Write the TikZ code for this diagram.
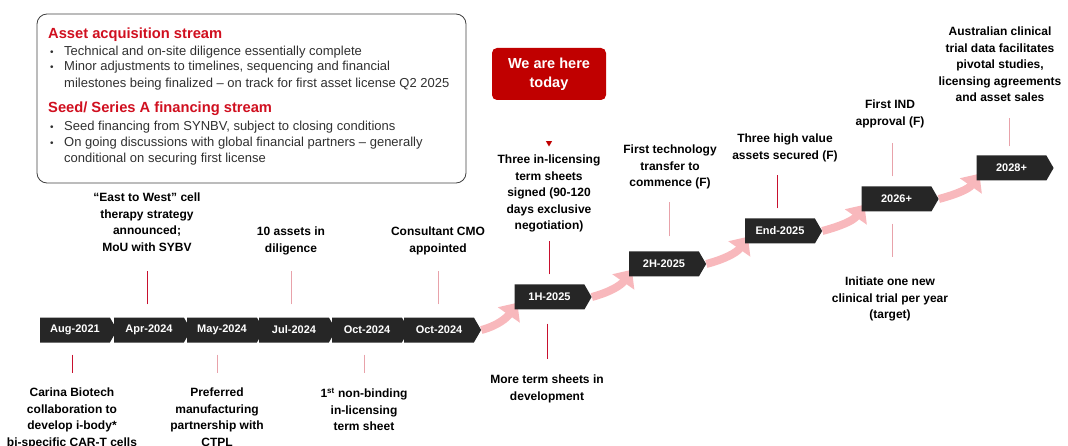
\documentclass[tikz,border=0pt]{standalone}
\usepackage{fontspec}
\setmainfont{Liberation Sans}
\usetikzlibrary{shapes.symbols,shapes.geometric,arrows.meta,backgrounds}

\definecolor{chev}{HTML}{262626}
\definecolor{herered}{HTML}{C00000}
\definecolor{headred}{HTML}{D00F1F}
\definecolor{tickred}{HTML}{C8102E}
\definecolor{tickpink}{HTML}{E8A2AA}
\definecolor{flowpink}{HTML}{F8B8BC}
\definecolor{boxtext}{HTML}{303030}
\definecolor{boxline}{HTML}{404040}

\begin{document}
\begin{tikzpicture}[x=1pt,y=-1pt,
    stage/.style ={signal, signal to=east, signal pointer angle=120, fill=chev, text=white,
                   font=\bfseries\fontsize{11}{12}\selectfont,
                   minimum width=77pt, minimum height=25pt, inner sep=0pt},
    note/.style ={align=center, inner sep=0pt, anchor=north,
                  font=\bfseries\fontsize{12}{16.5}\selectfont},
    tick/.style ={line width=1pt, tickred},
    softtick/.style ={line width=1pt, tickpink},
    flow/.style ={line width=8pt, flowpink, -{Triangle[width=26pt,length=15pt]}},
    head/.style ={anchor=base west, inner sep=0pt, text=headred,
                  font=\bfseries\fontsize{14.7}{17}\selectfont},
    point/.style ={anchor=base west, inner sep=0pt, text=boxtext,
                   font=\fontsize{13}{15}\selectfont},
    dot/.style ={anchor=base west, inner sep=0pt, text=boxtext,
                 font=\fontsize{10}{12}\selectfont},
    here/.style ={fill=herered, text=white, rounded corners=5pt, align=center,
                  minimum width=114pt, minimum height=52pt,
                  font=\bfseries\fontsize{14.5}{19}\selectfont},
    marker/.style ={regular polygon, regular polygon sides=3, shape border rotate=180,
                    fill=herered, inner sep=0pt, minimum size=7pt}]
   \useasboundingbox (0,0) rectangle (1068,446);

   % streams box
   \draw[boxline, line width=0.8pt, rounded corners=10pt] (37,14) rectangle (466,183);
   \node[head] (acq) at (48,38.5) {Asset acquisition stream};
   \node[dot] (acqa) at (50,55.5) {\textbullet};
   \node[point] (acqat) at (64,55.7) {Technical and on-site diligence essentially complete};
   \node[dot] (acqb) at (50,70.5) {\textbullet};
   \node[point] (acqbt) at (64,70.7) {Minor adjustments to timelines, sequencing and financial};
   \node[point] (acqbu) at (64,87.3) {milestones being finalized – on track for first asset license Q2 2025};
   \node[head] (seed) at (48,113) {Seed/ Series A financing stream};
   \node[dot] (seeda) at (50,130.5) {\textbullet};
   \node[point] (seedat) at (64,130.7) {Seed financing from SYNBV, subject to closing conditions};
   \node[dot] (seedb) at (50,146.5) {\textbullet};
   \node[point] (seedbt) at (64,146.7) {On going discussions with global financial partners – generally};
   \node[point] (seedbu) at (64,162.3) {conditional on securing first license};

   \node[here] (today) at (549,74) {We are here\\today};
   \node[marker] (now) at (549,143) {};

   % timeline
   \node[stage] (aug)  at (75,330)  {Aug-2021};
   \node[stage] (apr)  at (149,330) {Apr-2024};
   \node[stage] (may)  at (222,330) {May-2024};
   \node[stage] (jul)  at (294,330) {Jul-2024};
   \node[stage] (octa) at (367,330) {Oct-2024};
   \node[stage] (octb) at (439,330) {Oct-2024};
   \node[stage] (h1)   at (549.5,297) {1H-2025};
   \node[stage] (h2)   at (664,264) {2H-2025};
   \node[stage] (yend) at (780,231) {End-2025};
   \node[stage] (y26)  at (896.5,199) {2026+};
   \node[stage] (y28)  at (1011.5,168) {2028+};

   \begin{scope}[on background layer]
   \draw[flow] (octb.east) to[out=15,in=235] ([xshift=3pt,yshift=7pt]h1.south west);
   \draw[flow] (h1.east) to[out=15,in=235] ([xshift=3pt,yshift=7pt]h2.south west);
   \draw[flow] (h2.east) to[out=15,in=235] ([xshift=3pt,yshift=7pt]yend.south west);
   \draw[flow] (yend.east) to[out=15,in=235] ([xshift=3pt,yshift=7pt]y26.south west);
   \draw[flow] (y26.east) to[out=15,in=235] ([xshift=3pt,yshift=7pt]y28.south west);
   \end{scope}

   \draw[tick] ([xshift=-3pt,yshift=-12pt]aug.south) -- ++(0,18);
   \draw[tick] ([xshift=-2pt,yshift=13pt]apr.north) -- ++(0,-33);
   \draw[softtick] ([xshift=-5pt,yshift=-12pt]may.south) -- ++(0,18);
   \draw[softtick] ([xshift=-3pt,yshift=13pt]jul.north) -- ++(0,-33);
   \draw[softtick] ([xshift=-3pt,yshift=-12pt]octa.south) -- ++(0,18);
   \draw[softtick] ([xshift=-1pt,yshift=13pt]octb.north) -- ++(0,-33);
   \draw[tick] ([xshift=-0.5pt,yshift=10pt]h1.north) -- ++(0,-33);
   \draw[tick] ([xshift=-2.5pt,yshift=-14pt]h1.south) -- ++(0,35);
   \draw[softtick] ([xshift=5pt,yshift=15pt]h2.north) -- ++(0,-34);
   \draw[tick] ([xshift=-3pt,yshift=10pt]yend.north) -- ++(0,-33);
   \draw[softtick] ([xshift=-4.5pt,yshift=10pt]y26.north) -- ++(0,-33);
   \draw[softtick] ([xshift=-4.5pt,yshift=-12pt]y26.south) -- ++(0,33);
   \draw[softtick] ([xshift=-2.5pt,yshift=9pt]y28.north) -- ++(0,-28);

   % milestones
   \node[note] (carina) at (72,388) {Carina Biotech\\collaboration to\\develop i-body*\\bi-specific CAR-T cells};
   \node[note] (eastwest) at (147,193) {``East to West'' cell\\therapy strategy\\announced;\\MoU with SYBV};
   \node[note] (ctpl) at (217,388) {Preferred\\manufacturing\\partnership with\\CTPL};
   \node[note] (diligence) at (291,227) {10 assets in\\diligence};
   \node[note] (nonbinding) at (364,388) {1\textsuperscript{st} non-binding\\in-licensing\\term sheet};
   \node[note] (cmo) at (438,227) {Consultant CMO\\appointed};
   \node[note] (termsheets) at (549,155) {Three in-licensing\\term sheets\\signed (90-120\\days exclusive\\negotiation)};
   \node[note] (moresheets) at (547,375) {More term sheets in\\development};
   \node[note] (transfer) at (670,145) {First technology\\transfer to\\commence (F)};
   \node[note] (secured) at (785,134) {Three high value\\assets secured (F)};
   \node[note] (ind) at (890,100) {First IND\\approval (F)};
   \node[note] (initiate) at (890,277) {Initiate one new\\clinical trial per year\\(target)};
   \node[note] (australia) at (1000,27) {Australian clinical\\trial data facilitates\\pivotal studies,\\licensing agreements\\and asset sales};
 \end{tikzpicture}
\end{document}
